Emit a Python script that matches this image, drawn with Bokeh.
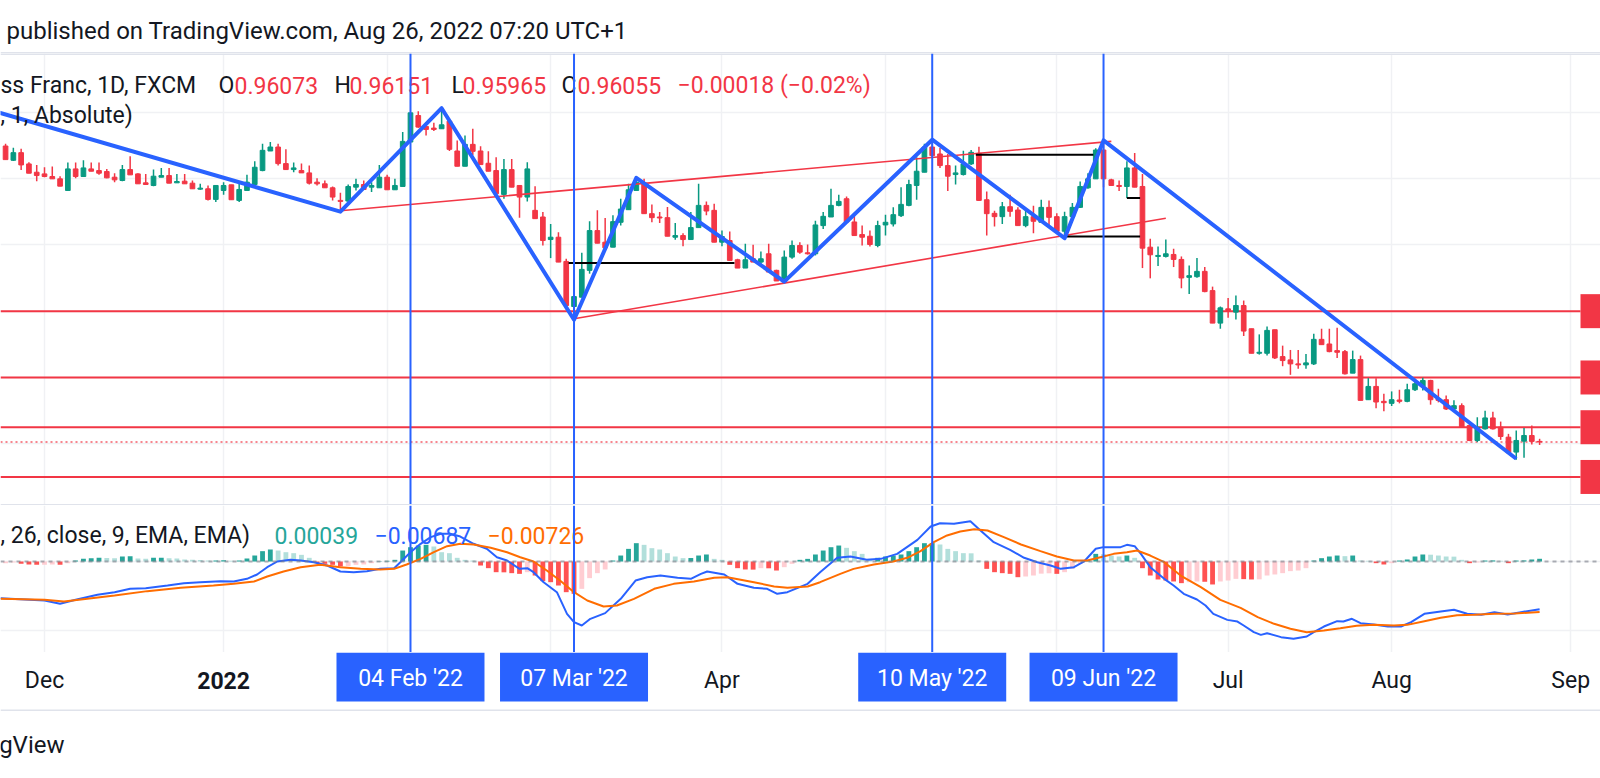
import numpy as np
from bokeh.plotting import figure
from bokeh.layouts import column
from bokeh.models import Range1d, FixedTicker, Grid, Span, ColumnDataSource
from bokeh.embed import file_html
from bokeh.resources import INLINE
from bokeh.core.properties import value

# ------------------------------------------------------------------ data
# daily bars, bar index 0 = 1 Dec 2021 (weekdays only); first bar = 24 Nov 2021
FIRST_BAR = -5
OPEN = [1.0498, 1.0455, 1.0478, 1.0444, 1.0419,
        1.0414, 1.0406, 1.0399, 1.0364, 1.0429, 1.0406, 1.0429, 1.0424, 1.0421, 1.0404,
        1.0394, 1.0427, 1.0414, 1.0387, 1.0379, 1.0404, 1.0409, 1.0387, 1.0392, 1.0386,
        1.0368, 1.0369, 1.0337, 1.0364, 1.0381, 1.0334, 1.0364, 1.0382, 1.0424, 1.0483,
        1.0495, 1.0445, 1.0427, 1.0424, 1.0417, 1.0389, 1.0384, 1.0372, 1.0334, 1.0332,
        1.0374, 1.0382, 1.0374, 1.0372, 1.0404, 1.0366, 1.0376, 1.0510, 1.0590, 1.0557,
        1.0552, 1.0550, 1.0573, 1.0483, 1.0437, 1.0503, 1.0483, 1.0446, 1.0424, 1.0352,
        1.0427, 1.0379, 1.0344, 1.0304, 1.0284, 1.0216, 1.0223, 1.0150, 1.0014, 1.0042,
        1.0123, 1.0243, 1.0208, 1.0193, 1.0268, 1.0306, 1.0364, 1.0386, 1.0294, 1.0284,
        1.0282, 1.0223, 1.0228, 1.0216, 1.0252, 1.0319, 1.0304, 1.0208, 1.0213, 1.0155,
        1.0130, 1.0158, 1.0148, 1.0173, 1.0123, 1.0088, 1.0163, 1.0198, 1.0176, 1.0173,
        1.0258, 1.0284, 1.0319, 1.0339, 1.0269, 1.0231, 1.0226, 1.0198, 1.0260, 1.0263,
        1.0288, 1.0319, 1.0379, 1.0419, 1.0495, 1.0474, 1.0439, 1.0412, 1.0412, 1.0444,
        1.0476, 1.0336, 1.0295, 1.0285, 1.0315, 1.0305, 1.0258, 1.0285, 1.0268, 1.0313,
        1.0285, 1.0241, 1.0285, 1.0313, 1.0372, 1.0399, 1.0486, 1.0396, 1.0379, 1.0376,
        1.0432, 1.0376, 1.0193, 1.0165, 1.0165, 1.0171, 1.0156, 1.0102, 1.0104, 1.0120,
        1.0062, 0.9964, 1.0007, 0.9997, 1.0017, 0.9947, 0.9873, 0.9873, 0.9944, 0.9863,
        0.9853, 0.9841, 0.9838, 0.9841, 0.9915, 0.9901, 0.9881, 0.9878, 0.9813, 0.9854,
        0.9733, 0.9773, 0.9728, 0.9722, 0.9732, 0.9728, 0.9763, 0.9773, 0.9791, 0.9736,
        0.9733, 0.9705, 0.9715, 0.9655, 0.9610, 0.9645, 0.9678, 0.9650, 0.9620, 0.9575,
        0.9608, 0.9625, 0.96073]
HIGH = [1.0505, 1.0493, 1.0490, 1.0449, 1.0441,
        1.0434, 1.0436, 1.0407, 1.0448, 1.0448, 1.0455, 1.0448, 1.0448, 1.0429, 1.0416,
        1.0441, 1.0467, 1.0416, 1.0414, 1.0427, 1.0432, 1.0432, 1.0414, 1.0414, 1.0394,
        1.0384, 1.0379, 1.0379, 1.0389, 1.0381, 1.0389, 1.0411, 1.0452, 1.0505, 1.0510,
        1.0505, 1.0488, 1.0448, 1.0445, 1.0439, 1.0401, 1.0394, 1.0376, 1.0357, 1.0382,
        1.0399, 1.0394, 1.0389, 1.0441, 1.0411, 1.0399, 1.0540, 1.0600, 1.0603, 1.0570,
        1.0568, 1.0612, 1.0575, 1.0515, 1.0530, 1.0550, 1.0497, 1.0482, 1.0464, 1.0459,
        1.0459, 1.0379, 1.0449, 1.0377, 1.0299, 1.0263, 1.0238, 1.0158, 1.0098, 1.0176,
        1.0271, 1.0304, 1.0281, 1.0289, 1.0339, 1.0384, 1.0402, 1.0399, 1.0322, 1.0299,
        1.0314, 1.0266, 1.0235, 1.0299, 1.0384, 1.0331, 1.0324, 1.0243, 1.0240, 1.0158,
        1.0203, 1.0200, 1.0180, 1.0203, 1.0125, 1.0183, 1.0213, 1.0208, 1.0201, 1.0273,
        1.0299, 1.0369, 1.0351, 1.0346, 1.0294, 1.0258, 1.0243, 1.0273, 1.0291, 1.0313,
        1.0374, 1.0396, 1.0464, 1.0505, 1.0517, 1.0492, 1.0474, 1.0439, 1.0484, 1.0486,
        1.0496, 1.0361, 1.0303, 1.0329, 1.0351, 1.0313, 1.0308, 1.0318, 1.0336, 1.0334,
        1.0295, 1.0300, 1.0326, 1.0391, 1.0416, 1.0491, 1.0515, 1.0399, 1.0394, 1.0452,
        1.0477, 1.0414, 1.0218, 1.0195, 1.0216, 1.0188, 1.0165, 1.0138, 1.0160, 1.0133,
        1.0074, 1.0014, 1.0040, 1.0047, 1.0032, 0.9947, 0.9930, 0.9954, 0.9944, 0.9896,
        0.9883, 0.9883, 0.9871, 0.9932, 0.9947, 0.9947, 0.9950, 0.9883, 0.9881, 0.9866,
        0.9798, 0.9798, 0.9751, 0.9758, 0.9763, 0.9781, 0.9796, 0.9799, 0.9793, 0.9766,
        0.9746, 0.9731, 0.9722, 0.9665, 0.9680, 0.9700, 0.9697, 0.9667, 0.9630, 0.9640,
        0.9648, 0.9655, 0.96151]
LOW = [1.0457, 1.0453, 1.0426, 1.0416, 1.0392,
       1.0404, 1.0399, 1.0377, 1.0364, 1.0401, 1.0406, 1.0422, 1.0411, 1.0401, 1.0389,
       1.0392, 1.0411, 1.0384, 1.0381, 1.0377, 1.0404, 1.0386, 1.0387, 1.0384, 1.0369,
       1.0366, 1.0334, 1.0329, 1.0351, 1.0336, 1.0329, 1.0364, 1.0382, 1.0422, 1.0483,
       1.0439, 1.0426, 1.0419, 1.0417, 1.0382, 1.0379, 1.0372, 1.0334, 1.0301, 1.0329,
       1.0364, 1.0366, 1.0359, 1.0372, 1.0366, 1.0366, 1.0376, 1.0510, 1.0553, 1.0530,
       1.0543, 1.0550, 1.0483, 1.0437, 1.0437, 1.0470, 1.0442, 1.0422, 1.0354, 1.0339,
       1.0374, 1.0282, 1.0331, 1.0279, 1.0198, 1.0160, 1.0148, 1.0017, 0.9974, 1.0042,
       1.0113, 1.0205, 1.0191, 1.0193, 1.0258, 1.0306, 1.0364, 1.0294, 1.0268, 1.0266,
       1.0226, 1.0215, 1.0196, 1.0216, 1.0252, 1.0289, 1.0208, 1.0196, 1.0153, 1.0130,
       1.0130, 1.0148, 1.0133, 1.0118, 1.0091, 1.0085, 1.0158, 1.0173, 1.0171, 1.0168,
       1.0248, 1.0284, 1.0316, 1.0269, 1.0228, 1.0198, 1.0195, 1.0193, 1.0228, 1.0255,
       1.0284, 1.0316, 1.0336, 1.0419, 1.0465, 1.0432, 1.0362, 1.0382, 1.0409, 1.0441,
       1.0332, 1.0228, 1.0255, 1.0263, 1.0285, 1.0258, 1.0253, 1.0235, 1.0268, 1.0258,
       1.0241, 1.0218, 1.0285, 1.0311, 1.0369, 1.0399, 1.0374, 1.0379, 1.0362, 1.0341,
       1.0374, 1.0130, 1.0099, 1.0136, 1.0162, 1.0133, 1.0069, 1.0052, 1.0101, 1.0057,
       0.9964, 0.9947, 0.9980, 0.9975, 0.9925, 0.9873, 0.9869, 0.9866, 0.9856, 0.9834,
       0.9808, 0.9826, 0.9826, 0.9838, 0.9899, 0.9876, 0.9859, 0.9809, 0.9813, 0.9731,
       0.9733, 0.9707, 0.9698, 0.9714, 0.9722, 0.9725, 0.9759, 0.9761, 0.9718, 0.9725,
       0.9702, 0.9703, 0.9650, 0.9608, 0.9605, 0.9643, 0.9643, 0.9612, 0.9573, 0.9552,
       0.9558, 0.9598, 0.95965]
CLOSE = [1.0457, 1.0478, 1.0441, 1.0416, 1.0409,
         1.0406, 1.0399, 1.0377, 1.0429, 1.0406, 1.0432, 1.0422, 1.0416, 1.0402, 1.0396,
         1.0427, 1.0411, 1.0384, 1.0382, 1.0407, 1.0409, 1.0386, 1.0391, 1.0384, 1.0369,
         1.0371, 1.0337, 1.0379, 1.0379, 1.0336, 1.0367, 1.0389, 1.0434, 1.0485, 1.0495,
         1.0445, 1.0427, 1.0432, 1.0417, 1.0386, 1.0384, 1.0372, 1.0344, 1.0331, 1.0376,
         1.0382, 1.0367, 1.0379, 1.0404, 1.0366, 1.0379, 1.0512, 1.0598, 1.0555, 1.0548,
         1.0548, 1.0562, 1.0488, 1.0437, 1.0503, 1.0482, 1.0442, 1.0422, 1.0354, 1.0427,
         1.0374, 1.0344, 1.0429, 1.0279, 1.0213, 1.0223, 1.0148, 1.0017, 1.0044, 1.0126,
         1.0243, 1.0205, 1.0191, 1.0270, 1.0308, 1.0366, 1.0389, 1.0294, 1.0282, 1.0281,
         1.0226, 1.0228, 1.0216, 1.0252, 1.0319, 1.0302, 1.0208, 1.0225, 1.0153, 1.0130,
         1.0155, 1.0148, 1.0158, 1.0118, 1.0091, 1.0163, 1.0198, 1.0178, 1.0173, 1.0260,
         1.0286, 1.0319, 1.0331, 1.0269, 1.0228, 1.0223, 1.0201, 1.0258, 1.0268, 1.0291,
         1.0322, 1.0382, 1.0422, 1.0495, 1.0469, 1.0439, 1.0407, 1.0417, 1.0444, 1.0479,
         1.0334, 1.0294, 1.0285, 1.0315, 1.0301, 1.0258, 1.0285, 1.0271, 1.0313, 1.0283,
         1.0241, 1.0285, 1.0313, 1.0376, 1.0399, 1.0486, 1.0399, 1.0379, 1.0376, 1.0432,
         1.0374, 1.0190, 1.0170, 1.0168, 1.0173, 1.0156, 1.0100, 1.0107, 1.0120, 1.0059,
         0.9964, 1.0010, 1.0002, 1.0017, 0.9940, 0.9873, 0.9876, 0.9942, 0.9859, 0.9851,
         0.9841, 0.9838, 0.9844, 0.9915, 0.9899, 0.9878, 0.9876, 0.9811, 0.9854, 0.9731,
         0.9773, 0.9726, 0.9724, 0.9733, 0.9728, 0.9763, 0.9781, 0.9791, 0.9733, 0.9731,
         0.9705, 0.9715, 0.9650, 0.9610, 0.9650, 0.9678, 0.9645, 0.9622, 0.9573, 0.9610,
         0.9625, 0.96073, 0.96055]

HIST_E5 = [-24, -14, -34, -43, -48,
           -48, -43, -46, -24, 14, 38, 48, 53, 50, 48,
           72, 74, 43, 38, 53, 55, 48, 43, 29, 24,
           22, 14, 16, 17, 10, 14, 43, 86, 149, 173,
           158, 134, 120, 96, 53, -24, -34, -48, -72, -67,
           -48, -43, -24, 5, 10, 24, 158, 206, 230, 240,
           216, 134, 120, 53, 24, 14, -58, -96, -154, -156,
           -168, -178, -154, -202, -283, -298, -346, -442, -466, -394,
           -240, -168, -115, 14, 86, 182, 264, 240, 192, 173,
           120, 72, 48, 50, 86, 101, 38, 24, -48, -96,
           -115, -117, -96, -98, -130, -82, -34, 24, 38, 101,
           158, 206, 230, 197, 149, 110, 38, 53, 72, 86,
           101, 149, 206, 264, 266, 245, 182, 149, 120, 118,
           14, -106, -154, -168, -178, -226, -216, -202, -175, -170,
           -178, -154, -106, -34, 14, 110, 106, 86, 72, 86,
           53, -96, -202, -259, -274, -288, -312, -298, -288, -292,
           -331, -288, -274, -250, -254, -259, -257, -202, -187, -168,
           -139, -130, -96, 14, 48, 72, 86, 77, 86, 14,
           10, -24, -43, -24, 14, 29, 72, 101, 98, 86,
           72, 70, 24, -24, -14, 14, 16, 10, -24, 14,
           16, 29, 39]
MACD_X = [-5.65, 0, 2, 4, 6.8, 9, 11, 13, 15.8, 17.9, 20, 22.6, 24.3, 26, 27.3, 28.6,
          29.9, 31.6, 32.9, 34.6, 36.3, 38, 39.7, 41.4, 43.1, 44.9, 45.7, 47, 48.3, 49.6,
          50.9, 52.1, 53.4, 55.1, 56.8, 58.1, 59.4, 61, 62, 62.8, 64.1, 65.8, 67.1, 68, 69,
          70.1, 72, 74, 75.9, 77.4, 79.1, 81.3, 83, 84.3, 85.1, 87.3, 89, 91.1, 92.8, 94.1,
          95.4, 98, 99.6, 101.8, 103.5, 105.6, 107.4, 109.5, 112.1, 113.8, 115, 116.8, 118.9,
          120.2, 121.9, 124, 125.8, 127.5, 129.2, 130.5, 132.2, 133.5, 135, 136, 138.2, 139,
          140, 140.8, 142, 143.8, 145, 146.3, 148, 149.1, 150.1, 151.9, 153.2, 154, 155.3,
          156.2, 157, 158.8, 160.4, 162.1, 163, 164.3, 166, 166.8, 167.9, 169, 170.7, 172.5,
          174.2, 175.5, 177.2, 179.3, 181, 182.7, 184.5, 186.2, 187.9, 189.6, 192]
MACD_E5 = [-528, -562, -610, -552, -480, -442, -394, -384, -346, -312, -298, -283, -288, -250,
           -187, -82, 0, 24, 14, -10, -58, -144, -154, -139, -106, -96, -10, 134, 255, 351,
           399, 399, 360, 255, 183, 62, 14, -106, -96, -154, -298, -442, -754, -874, -922,
           -826, -744, -538, -274, -226, -202, -235, -250, -178, -144, -187, -322, -379, -394,
           -466, -442, -322, -154, 53, 72, 24, 38, 110, 312, 504, 552, 543, 581, 447, 279,
           168, 53, -10, -58, -106, -82, 0, 183, 207, 207, 240, 221, 110, -82, -250, -346,
           -466, -548, -634, -754, -841, -865, -922, -1018, -1057, -1033, -1090, -1114, -1081,
           -1018, -937, -860, -865, -826, -889, -908, -937, -937, -874, -754, -720, -696,
           -754, -768, -730, -764, -730, -687]
SIGNAL_X = [-5.65, 0, 2.5, 5.5, 9, 13.2, 17.5, 21.7, 24.3, 26.9, 28.6, 30.7, 32.9, 35.4, 38,
            40.6, 43.1, 44.9, 46.5, 48.3, 50, 51.7, 53.4, 55.1, 57.3, 59.4, 61.1, 62.8, 64.5,
            66.2, 68, 69.7, 71.8, 73.5, 75.7, 78.3, 80.8, 83.4, 86, 87.7, 91.1, 93.7, 95.4, 98,
            99.6, 102.2, 103.9, 106.5, 109, 110.8, 112.5, 114.2, 115.9, 117.6, 119.4, 121.1,
            123.2, 125.4, 127.9, 130, 132.2, 133.9, 135.6, 137.3, 139, 140.3, 142, 143.8, 145.9,
            148.5, 151, 153.6, 155.8, 157.9, 160, 162.1, 164.3, 166.4, 168.5, 170.7, 173.3, 175,
            177.2, 179.3, 181.4, 183.6, 186.2, 188.8, 192]
SIGNAL_E5 = [-538, -552, -576, -538, -490, -427, -379, -346, -322, -288, -216, -144, -82, -48,
             -82, -106, -115, -106, -43, 38, 134, 221, 255, 245, 197, 134, 62, 0, -130, -274,
             -442, -562, -648, -634, -538, -394, -322, -288, -235, -226, -298, -360, -379, -360,
             -298, -178, -106, -43, 0, 53, 149, 279, 375, 432, 466, 447, 351, 245, 149, 72, 14,
             14, 62, 110, 134, 159, 86, -10, -202, -370, -552, -668, -802, -898, -970, -1018,
             -994, -961, -927, -913, -922, -913, -860, -812, -773, -768, -754, -749, -726]

# drawings (bar index, price)
ZIGZAG_X = [-6, 38, 51, 68, 76, 95, 114, 131, 136, 189]
ZIGZAG_Y = [1.0600, 1.0300, 1.0612, 0.9974, 1.0402, 1.0089, 1.0517, 1.0220, 1.0515, 0.9555]
WEDGE_X0 = [38, 68]
WEDGE_Y0 = [1.0303, 0.9977]
WEDGE_X1 = [137, 144]
WEDGE_Y1 = [1.0512, 1.0280]
BLACK_X0 = [67.3, 119.6, 131.0, 139.0]
BLACK_X1 = [88.6, 134.7, 140.7, 140.7]
BLACK_Y = [1.0145, 1.0472, 1.0225, 1.0341]
LEVELS = [1.0000, 0.9800, 0.9650, 0.9500]
PRICE_GRID = [0.94, 0.96, 0.98, 1.00, 1.02, 1.04, 1.06]
MACD_GRID = [-0.01, 0.0]

MONTH_TICKS = [0, 23, 44, 65, 87, 108, 130, 152, 173, 196]
AXIS_TICKS = [0, 87, 152, 173, 196]
AXIS_LABELS = ["Dec", "Apr", "Jul", "Aug", "Sep"]
YEAR_TICK, YEAR_LABEL = 23, "2022"
MARKED_BARS = [47, 68, 114, 136]
MARKED_LABELS = ["04 Feb '22", "07 Mar '22", "10 May '22", "09 Jun '22"]

HEADER = "published on TradingView.com, Aug 26, 2022 07:20 UTC+1"
SYMBOL = "ss Franc, 1D, FXCM"
STUDY1 = ", 1, Absolute)"
MACD_TITLE = ", 26, close, 9, EMA, EMA)"
FOOTER = "gView"

# ------------------------------------------------------------------ layout (page pixels)
W = 1600
X0_REF, BAR_PX = 44.0, 7.787          # x of bar 0, px per bar
P_REF, Y_PREF, PX_PRICE = 0.96, 443.3, 3316.0
Y_MZERO, PX_MACD = 561.0, 6940.0
MAIN_TOP, MAIN_BOT, MACD_BOT, AXIS_BOT, PAGE_BOT = 53, 505, 652, 709, 778
PRICE_AXIS_X = 1580
FONT = value("Roboto")
INK = "#131722"
GREEN, RED = "#089981", "#f23645"
BLUE, ORANGE = "#2962ff", "#ff6d00"
GRID_C = "#f0f1f4"
SEP_C = "#e0e3eb"


def xi(px):
    return (px - X0_REF) / BAR_PX


def yp(py):
    return P_REF + (Y_PREF - py) / PX_PRICE


def ym(py):
    return (Y_MZERO - py) / PX_MACD


def fmt(v):
    return f"{v:.5f}".replace("-", "\u2212")


def base(height, xr, yr):
    p = figure(width=W, height=height, x_range=xr, y_range=yr, output_backend="svg",
               toolbar_location=None, x_axis_location=None, y_axis_location=None,
               min_border=0, outline_line_color=None,
               background_fill_color="white", border_fill_color="white")
    p.center = [r for r in p.center if not isinstance(r, Grid)]
    return p


XR = Range1d(xi(0), xi(W))

# ---------------- header
head = base(MAIN_TOP, Range1d(0, W), Range1d(MAIN_TOP, 0))
head.text(x=[6], y=[30], text=[HEADER], text_font=FONT, text_font_size="24px",
          text_color=INK, text_baseline="middle", text_align="left")
head.add_layout(Span(location=MAIN_TOP, dimension="width", line_color=SEP_C, line_width=3))

# ---------------- main price pane
main = base(MAIN_BOT - MAIN_TOP, XR, Range1d(yp(MAIN_BOT), yp(MAIN_TOP)))
main.add_layout(Grid(dimension=0, ticker=FixedTicker(ticks=MONTH_TICKS),
                     grid_line_color=GRID_C, grid_line_width=1.5))
main.add_layout(Grid(dimension=1, ticker=FixedTicker(ticks=PRICE_GRID),
                     grid_line_color=GRID_C, grid_line_width=1.5))
main.add_layout(Span(location=yp(MAIN_TOP + 0.5), dimension="width", line_color=SEP_C, line_width=2))

x_end = xi(PRICE_AXIS_X)
main.segment(x0=[xi(0)] * len(LEVELS), y0=LEVELS, x1=[x_end] * len(LEVELS), y1=LEVELS,
             line_color=RED, line_width=2)
box_half = 17 / PX_PRICE
main.quad(left=[x_end] * len(LEVELS), right=[xi(W + 5)] * len(LEVELS),
          top=[v + box_half for v in LEVELS], bottom=[v - box_half for v in LEVELS],
          fill_color="#f23645", line_color=None)
main.segment(x0=[xi(0)], y0=[CLOSE[-1]], x1=[x_end], y1=[CLOSE[-1]],
             line_color=RED, line_width=1.5, line_dash="2 3", line_alpha=0.8)

o, h, l, c = (np.array(a) for a in (OPEN, HIGH, LOW, CLOSE))
idx = np.arange(FIRST_BAR, FIRST_BAR + len(o))
cols = np.where(c >= o, GREEN, RED)
src = ColumnDataSource(dict(x=idx, h=h, l=l, top=np.maximum(o, c), bot=np.minimum(o, c), color=cols))
main.segment(x0="x", y0="h", x1="x", y1="l", source=src, line_color="color", line_width=1.5)
main.vbar(x="x", width=0.6, top="top", bottom="bot", source=src,
          fill_color="color", line_color="color", line_width=1)

main.segment(x0=WEDGE_X0, y0=WEDGE_Y0, x1=WEDGE_X1, y1=WEDGE_Y1, line_color=RED, line_width=1.6)
main.segment(x0=BLACK_X0, y0=BLACK_Y, x1=BLACK_X1, y1=BLACK_Y, line_color="#000000", line_width=2)
main.line(ZIGZAG_X, ZIGZAG_Y, line_color=BLUE, line_width=4, line_join="round")
for b in MARKED_BARS:
    main.add_layout(Span(location=b, dimension="height", line_color=BLUE, line_width=2))
main.add_layout(Span(location=yp(MAIN_BOT - 0.5), dimension="width", line_color=SEP_C, line_width=2))

chg = CLOSE[-1] - CLOSE[-2]
pct = chg / CLOSE[-2] * 100
legend = [(0, SYMBOL, INK), (218, "O", INK), (234, fmt(OPEN[-1]), RED),
          (334, "H", INK), (349, fmt(HIGH[-1]), RED), (451, "L", INK), (462, fmt(LOW[-1]), RED),
          (561, "C", INK), (577, fmt(CLOSE[-1]), RED),
          (677, f"{fmt(chg)} ({pct:.2f}%)".replace("-", "\u2212"), RED)]
main.text(x=[xi(a) for a, _, _ in legend], y=[yp(85)] * len(legend), text=[t for _, t, _ in legend],
          text_color=[k for _, _, k in legend], text_font=FONT, text_font_size="23px",
          text_baseline="middle", text_align="left")
main.text(x=[xi(0)], y=[yp(115)], text=[STUDY1], text_color=INK, text_font=FONT,
          text_font_size="23px", text_baseline="middle", text_align="left")

# ---------------- MACD pane
macd = base(MACD_BOT - MAIN_BOT, XR, Range1d(ym(MACD_BOT), ym(MAIN_BOT)))
macd.add_layout(Grid(dimension=0, ticker=FixedTicker(ticks=MONTH_TICKS),
                     grid_line_color=GRID_C, grid_line_width=1.5))
macd.add_layout(Grid(dimension=1, ticker=FixedTicker(ticks=MACD_GRID),
                     grid_line_color=GRID_C, grid_line_width=1.5))
hist = np.array(HIST_E5) * 1e-5
prev = np.concatenate([[hist[0]], hist[:-1]])
hcol = np.where(hist >= 0, np.where(hist >= prev, "#26a69a", "#b2dfdb"),
                np.where(hist < prev, "#ff5252", "#ffcdd2"))
macd.vbar(x=idx, width=0.62, top=hist, bottom=0, fill_color=hcol, line_color=None)
macd.add_layout(Span(location=0, dimension="width", line_color="#787b86", line_alpha=0.6,
                     line_width=2, line_dash="4 4"))
macd.line(MACD_X, np.array(MACD_E5) * 1e-5, line_color=BLUE, line_width=2)
macd.line(SIGNAL_X, np.array(SIGNAL_E5) * 1e-5, line_color=ORANGE, line_width=2)
for b in MARKED_BARS:
    macd.add_layout(Span(location=b, dimension="height", line_color=BLUE, line_width=2))

mleg = [(0, MACD_TITLE, INK), (274, fmt(hist[-1]), "#26a69a"),
        (374, fmt(MACD_E5[-1] * 1e-5), BLUE), (487, fmt(SIGNAL_E5[-1] * 1e-5), ORANGE)]
macd.text(x=[xi(a) for a, _, _ in mleg], y=[ym(535)] * len(mleg), text=[t for _, t, _ in mleg],
          text_color=[k for _, _, k in mleg], text_font=FONT, text_font_size="23px",
          text_baseline="middle", text_align="left")

# ---------------- time axis band (tick labels on the shared bar scale)
band = base(AXIS_BOT - MACD_BOT, XR, Range1d(AXIS_BOT, MACD_BOT))
band.text(x=AXIS_TICKS, y=[680] * len(AXIS_TICKS), text=AXIS_LABELS, text_font=FONT,
          text_font_size="23px", text_color=INK, text_align="center", text_baseline="middle")
band.text(x=[YEAR_TICK], y=[680], text=[YEAR_LABEL], text_font=FONT, text_font_size="23px",
          text_font_style="bold", text_color=INK, text_align="center", text_baseline="middle")
half = 74 / BAR_PX
band.quad(left=[b - half for b in MARKED_BARS], right=[b + half for b in MARKED_BARS],
          top=[MACD_BOT] * len(MARKED_BARS), bottom=[701] * len(MARKED_BARS),
          fill_color=BLUE, line_color=None)
band.text(x=MARKED_BARS, y=[678] * len(MARKED_BARS), text=MARKED_LABELS, text_font=FONT,
          text_font_size="23px", text_color="white", text_align="center", text_baseline="middle")

# ---------------- footer
foot = base(PAGE_BOT - AXIS_BOT, Range1d(0, W), Range1d(PAGE_BOT, AXIS_BOT))
foot.add_layout(Span(location=AXIS_BOT + 0.6, dimension="width", line_color=SEP_C, line_width=2))
foot.text(x=[64], y=[744], text=[FOOTER], text_font=FONT, text_font_size="24px",
          text_color=INK, text_baseline="middle", text_align="right")

page = column(head, main, macd, band, foot, spacing=0)
open("out.html", "w").write(file_html(page, INLINE))
